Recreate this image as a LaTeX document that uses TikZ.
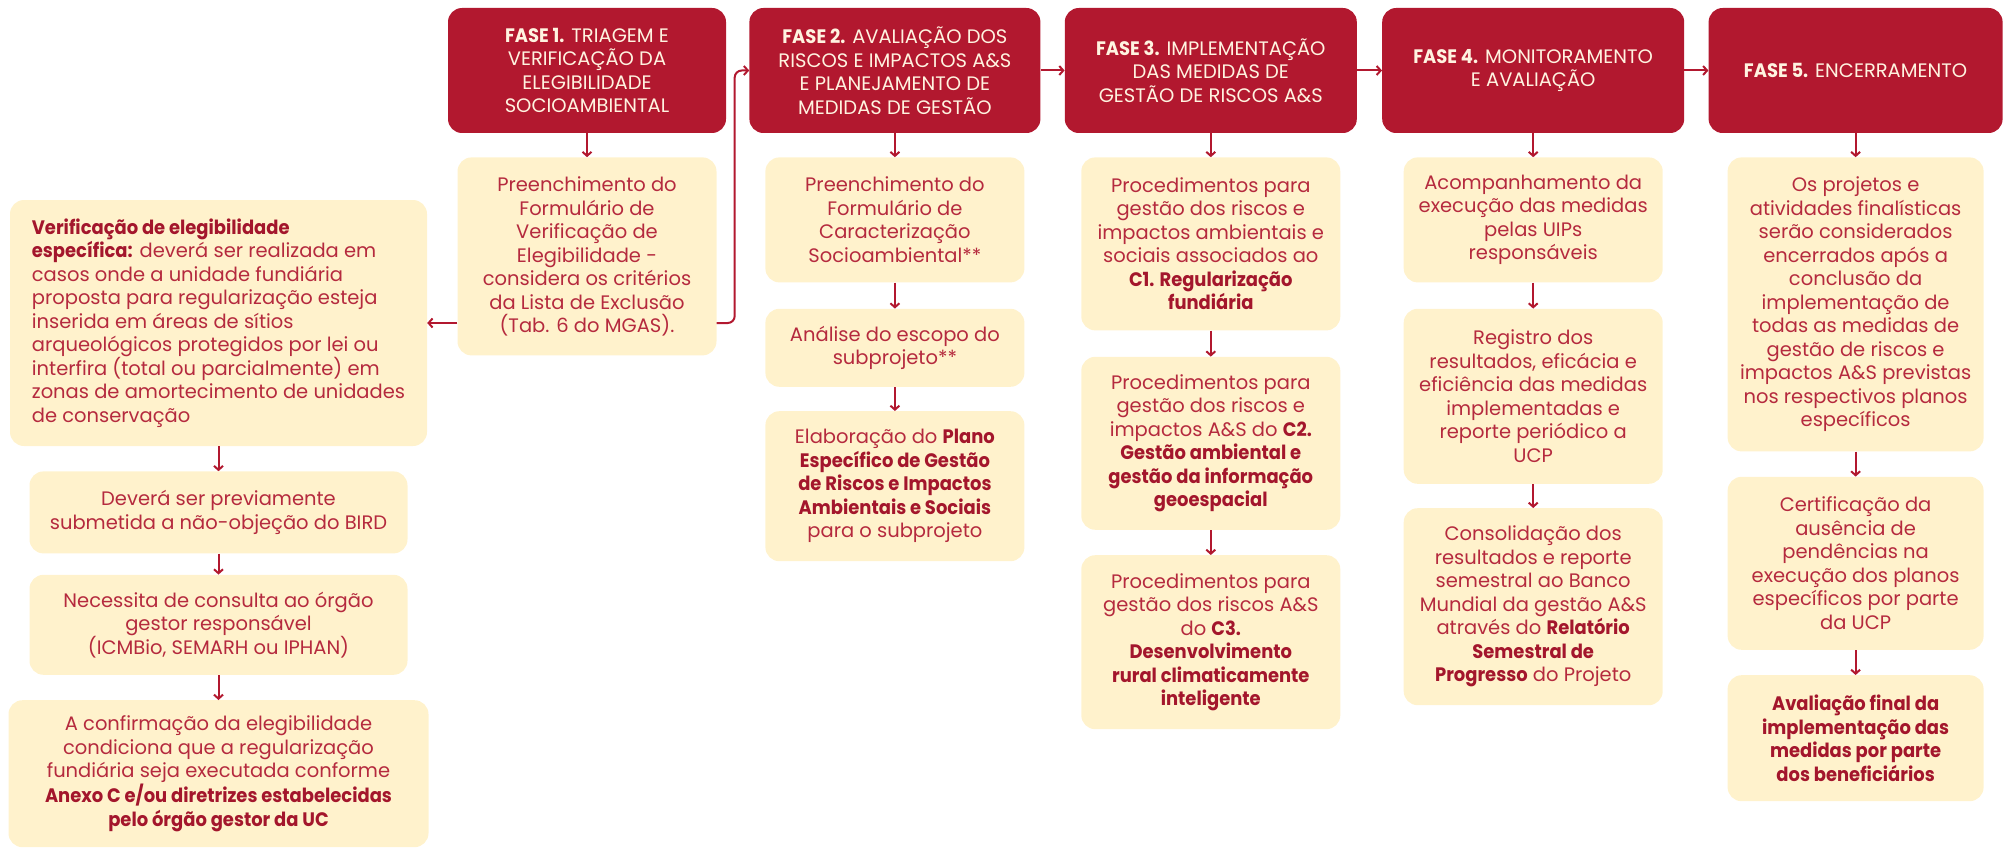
\documentclass[tikz,border=0pt]{standalone}
\usepackage{fontspec}
\setmainfont{Poppins}[BoldFeatures={FakeStretch=0.92}]
\usetikzlibrary{positioning,arrows.meta}

\definecolor{vermelho}{HTML}{B2182F}
\definecolor{textoverm}{HTML}{B52A3E}
\definecolor{negritoverm}{HTML}{A3162C}
\definecolor{creme}{HTML}{FFF2CC}
\definecolor{textofase}{HTML}{FFF3E0}

\newcommand{\destaque}[1]{{\bfseries\color{negritoverm}#1}}

\tikzset{
  fase/.style={fill=vermelho, text=textofase, rounded corners=14pt,
    minimum height=125pt, align=center, inner sep=3pt,
    font=\fontsize{19.5}{23.5}\selectfont},
  etapa/.style={fill=creme, text=textoverm, rounded corners=14pt,
    minimum width=259pt, align=center, inner sep=3pt,
    font=\fontsize{19.5}{23.5}\selectfont},
  seta/.style={draw=vermelho, line width=2pt,
    -{Straight Barb[length=4pt,width=9pt]}},
}

\begin{document}
\begin{tikzpicture}[x=1pt,y=-1pt]
\useasboundingbox (0,0) rectangle (2003,848);

% Fases
\node[fase,
    minimum width=278pt] (fase1) at (587,70.5)
    {\textbf{FASE 1.} TRIAGEM E\\VERIFICAÇÃO DA\\ELEGIBILIDADE\\SOCIOAMBIENTAL};

\node[fase,
    right=23pt of fase1,
    minimum width=291pt] (fase2)
    {\textbf{FASE 2.} AVALIAÇÃO DOS\\RISCOS E IMPACTOS A\&S\\E PLANEJAMENTO DE\\MEDIDAS DE GESTÃO};

\node[fase,
    right=24pt of fase2,
    minimum width=292pt] (fase3)
    {\textbf{FASE 3.} IMPLEMENTAÇÃO\\DAS MEDIDAS DE\\GESTÃO DE RISCOS A\&S};

\node[fase,
    right=25pt of fase3,
    minimum width=302pt] (fase4)
    {\textbf{FASE 4.} MONITORAMENTO\\E AVALIAÇÃO};

\node[fase,
    right=24pt of fase4,
    minimum width=294pt] (fase5)
    {\textbf{FASE 5.} ENCERRAMENTO};

% Fase 1: triagem
\node[etapa,
    below=24pt of fase1,
    minimum height=198pt] (pre1)
    {Preenchimento do\\Formulário de\\Verificação de\\Elegibilidade -\\considera os critérios\\da Lista de Exclusão\\(Tab. 6 do MGAS).};

% Verificacao especifica
\node[etapa,
    align=left,
    minimum width=417pt,
    minimum height=246pt] (verif) at (218.5,323)
    {\destaque{Verificação de elegibilidade}\\
     \destaque{específica:} deverá ser realizada em\\
     casos onde a unidade fundiária\\
     proposta para regularização esteja\\
     inserida em áreas de sítios\\
     arqueológicos protegidos por lei ou\\
     interfira (total ou parcialmente) em\\
     zonas de amortecimento de unidades\\
     de conservação};

\node[etapa,
    below=25pt of verif,
    minimum width=378pt,
    minimum height=82pt] (bird)
    {Deverá ser previamente\\submetida a não-objeção do BIRD};

\node[etapa,
    below=21pt of bird,
    minimum width=378pt,
    minimum height=100pt] (orgao)
    {Necessita de consulta ao órgão\\gestor responsável\\(ICMBio, SEMARH ou IPHAN)};

\node[etapa,
    below=25pt of orgao,
    minimum width=420pt,
    minimum height=147pt] (confirma)
    {A confirmação da elegibilidade\\condiciona que a regularização\\fundiária seja executada conforme\\
     \destaque{Anexo C e/ou diretrizes estabelecidas}\\\destaque{pelo órgão gestor da UC}};

% Fase 2: avaliacao
\node[etapa,
    below=24pt of fase2,
    minimum height=125pt] (carac)
    {Preenchimento do\\Formulário de\\Caracterização\\Socioambiental**};

\node[etapa,
    below=26pt of carac,
    minimum height=78pt] (escopo)
    {Análise do escopo do\\subprojeto**};

\node[etapa,
    below=24pt of escopo,
    minimum height=150pt] (plano)
    {Elaboração do \destaque{Plano}\\\destaque{Específico de Gestão}\\\destaque{de Riscos e Impactos}\\
     \destaque{Ambientais e Sociais}\\para o subprojeto};

% Fase 3: implementacao
\node[etapa,
    below=24pt of fase3,
    minimum height=173pt] (comp1)
    {Procedimentos para\\gestão dos riscos e\\impactos ambientais e\\sociais associados ao\\
     \destaque{C1. Regularização}\\\destaque{fundiária}};

\node[etapa,
    below=26pt of comp1,
    minimum height=173pt] (comp2)
    {Procedimentos para\\gestão dos riscos e\\impactos A\&S do \destaque{C2.}\\
     \destaque{Gestão ambiental e}\\\destaque{gestão da informação}\\\destaque{geoespacial}};

\node[etapa,
    below=25pt of comp2,
    minimum height=174pt] (comp3)
    {Procedimentos para\\gestão dos riscos A\&S\\do \destaque{C3.}\\
     \destaque{Desenvolvimento}\\\destaque{rural climaticamente}\\\destaque{inteligente}};

% Fase 4: monitoramento
\node[etapa,
    below=24pt of fase4,
    minimum height=125pt] (acomp)
    {Acompanhamento da\\execução das medidas\\pelas UIPs\\responsáveis};

\node[etapa,
    below=26pt of acomp,
    minimum height=175pt] (registro)
    {Registro dos\\resultados, eficácia e\\eficiência das medidas\\implementadas e\\reporte periódico a\\UCP};

\node[etapa,
    below=24pt of registro,
    minimum height=197pt] (consol)
    {Consolidação dos\\resultados e reporte\\semestral ao Banco\\Mundial da gestão A\&S\\
     através do \destaque{Relatório}\\\destaque{Semestral de}\\\destaque{Progresso} do Projeto};

% Fase 5: encerramento
\node[etapa,
    below=24pt of fase5,
    minimum width=256pt,
    minimum height=294pt] (encerra)
    {Os projetos e\\atividades finalísticas\\serão considerados\\encerrados após a\\conclusão da\\implementação de\\
     todas as medidas de\\gestão de riscos e\\impactos A\&S previstas\\nos respectivos planos\\específicos};

\node[etapa,
    below=25pt of encerra,
    minimum width=256pt,
    minimum height=173pt] (certif)
    {Certificação da\\ausência de\\pendências na\\execução dos planos\\específicos por parte\\da UCP};

\node[etapa,
    below=25pt of certif,
    minimum width=256pt,
    minimum height=126pt] (final)
    {\destaque{Avaliação final da}\\\destaque{implementação das}\\\destaque{medidas por parte}\\\destaque{dos beneficiários}};

% Setas
\draw[seta] (fase2) edge (fase3)
    (fase3) edge (fase4)
    (fase4) edge (fase5);

\draw[seta] (fase1) edge (pre1)
    (fase2) edge (carac)
    (fase3) edge (comp1)
    (fase4) edge (acomp)
    (fase5) edge (encerra);

\draw[seta] (carac) edge (escopo)
    (escopo) edge (plano)
    (comp1) edge (comp2)
    (comp2) edge (comp3)
    (acomp) edge (registro)
    (registro) edge (consol)
    (encerra) edge (certif)
    (certif) edge (final);

\draw[seta] (verif) edge (bird)
    (bird) edge (orgao)
    (orgao) edge (confirma);

\draw[seta] (pre1.west |- verif.east) -- (verif.east);
\draw[seta, rounded corners=7pt] (pre1.east |- verif.east) -- ++(18,0) |- (fase2.west);

\end{tikzpicture}
\end{document}
